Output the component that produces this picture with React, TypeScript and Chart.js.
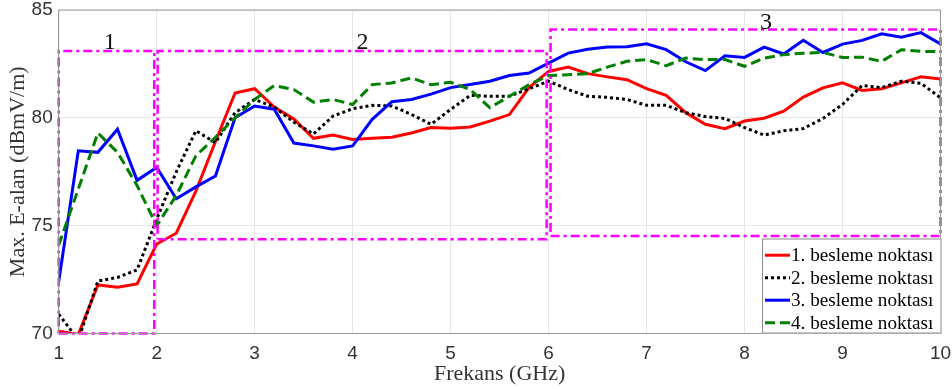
import React, { useEffect, useRef } from 'react';
import { Chart, registerables } from 'chart.js';

Chart.register(...registerables);

// Frequency axis (GHz)
const freqGHz = [
  1.0, 1.2, 1.4, 1.6, 1.8, 2.0, 2.2, 2.4, 2.6, 2.8,
  3.0, 3.2, 3.4, 3.6, 3.8, 4.0, 4.2, 4.4, 4.6, 4.8,
  5.0, 5.2, 5.4, 5.6, 5.8, 6.0, 6.2, 6.4, 6.6, 6.8,
  7.0, 7.2, 7.4, 7.6, 7.8, 8.0, 8.2, 8.4, 8.6, 8.8,
  9.0, 9.2, 9.4, 9.6, 9.8, 10.0,
];

// 1. besleme noktası (red, solid)
const feed1 = [
  70.1, 69.95, 72.25, 72.15, 72.3, 74.15, 74.65, 76.6, 78.9, 81.15,
  81.35, 80.5, 79.95, 79.05, 79.2, 79.0, 79.05, 79.1, 79.3, 79.55,
  79.52, 79.58, 79.85, 80.15, 81.4, 82.15, 82.35, 82.05, 81.9, 81.77,
  81.35, 81.04, 80.24, 79.7, 79.5, 79.85, 79.98, 80.31, 80.96, 81.39,
  81.62, 81.27, 81.35, 81.62, 81.9, 81.8,
];

// 2. besleme noktası (black, dotted)
const feed2 = [
  70.9, 69.7, 72.43, 72.6, 72.95, 75.3, 77.5, 79.4, 78.85, 80.24,
  80.85, 80.5, 79.8, 79.25, 80.08, 80.42, 80.58, 80.55, 80.16, 79.7,
  80.39, 81.04, 81.0, 81.0, 81.35, 81.7, 81.31, 81.0, 80.95, 80.85,
  80.58, 80.58, 80.24, 80.06, 79.97, 79.55, 79.2, 79.4, 79.5, 79.97,
  80.62, 81.5, 81.4, 81.7, 81.6, 80.93,
];

// 3. besleme noktası (blue, solid)
const feed3 = [
  72.4, 78.47, 78.4, 79.47, 77.1, 77.7, 76.25, 76.8, 77.3, 80.0,
  80.55, 80.4, 78.83, 78.7, 78.55, 78.7, 79.93, 80.75, 80.85, 81.1,
  81.4, 81.55, 81.7, 81.96, 82.08, 82.54, 83.0, 83.18, 83.28, 83.3,
  83.43, 83.16, 82.6, 82.19, 82.88, 82.8, 83.28, 82.96, 83.6, 83.03,
  83.42, 83.59, 83.9, 83.74, 83.95, 83.43,
];

// 4. besleme noktası (green, dashed)
const feed4 = [
  74.1, 76.7, 79.3, 78.4, 76.86, 75.0, 76.4, 78.24, 79.1, 80.0,
  80.85, 81.5, 81.31, 80.73, 80.85, 80.62, 81.54, 81.62, 81.85, 81.54,
  81.65, 81.31, 80.47, 81.0, 81.54, 81.96, 82.0, 82.05, 82.35, 82.62,
  82.7, 82.42, 82.77, 82.7, 82.7, 82.39, 82.77, 82.93, 83.0, 83.03,
  82.8, 82.81, 82.62, 83.16, 83.08, 83.08,
];

const seriesValues = [feed1, feed2, feed3, feed4];
const seriesLabels = ['1. besleme noktası', '2. besleme noktası', '3. besleme noktası', '4. besleme noktası'];
const seriesColors = ['#ff0000', '#000000', '#0000ff', '#008000'];
const seriesDash: number[][] = [[], [3, 3], [], [10, 5]];

// Axis ticks
const xTickValues = [1, 2, 3, 4, 5, 6, 7, 8, 9, 10];
const yTickValues = [70, 75, 80, 85];

// Highlighted regions (dash-dot boxes)
const regionLabels = ['1', '2', '3'];
const regionX0 = [1.0, 2.01, 6.02];
const regionX1 = [1.975, 5.98, 10.0];
const regionY0 = [70.0, 74.37, 74.52];
const regionY1 = [83.1, 83.1, 84.1];
const regionLabelX = [1.52, 4.1, 8.22];
const regionLabelY = [83.5, 83.47, 84.4];

const SERIF = '"Liberation Serif", "Times New Roman", serif';
const SANS = '"Liberation Sans", Arial, sans-serif';

const overlayPlugin = {
  id: 'overlay',
  afterDatasetsDraw(chart: any) {
    const { ctx, chartArea, scales } = chart;
    const xs = scales.x;
    const ys = scales.y;
    ctx.save();
    // plot box border (top & right)
    ctx.strokeStyle = '#9a9a9a';
    ctx.lineWidth = 1;
    ctx.setLineDash([]);
    ctx.strokeRect(chartArea.left, chartArea.top, chartArea.right - chartArea.left, chartArea.bottom - chartArea.top);

    // region labels
    ctx.fillStyle = '#111';
    ctx.font = `24px ${SERIF}`;
    ctx.textAlign = 'center';
    ctx.textBaseline = 'middle';
    regionLabels.forEach((t, i) => {
      ctx.fillText(t, xs.getPixelForValue(regionLabelX[i]), ys.getPixelForValue(regionLabelY[i]));
    });

    // legend
    const right = chartArea.right + 1;
    const bottom = chartArea.bottom;
    const lw = 179.5;
    const lh = 95;
    const left = right - lw;
    const top = bottom - lh;
    ctx.fillStyle = '#ffffff';
    ctx.fillRect(left, top, lw, lh);
    ctx.strokeStyle = '#8a8a8a';
    ctx.lineWidth = 1;
    ctx.strokeRect(left + 0.5, top + 0.5, lw - 1, lh - 1);
    ctx.font = `19.2px ${SERIF}`;
    ctx.textAlign = 'left';
    ctx.textBaseline = 'middle';
    seriesLabels.forEach((lab, i) => {
      const y = top + 16.7 + i * 22.5;
      ctx.beginPath();
      ctx.strokeStyle = seriesColors[i];
      ctx.lineWidth = 3;
      ctx.setLineDash(seriesDash[i]);
      ctx.moveTo(left + 3, y);
      ctx.lineTo(left + 28, y);
      ctx.stroke();
      ctx.setLineDash([]);
      ctx.fillStyle = '#000';
      ctx.fillText(lab, left + 29, y + 1);
    });
    ctx.restore();
  },
};

export default function App() {
  const canvasRef = useRef<HTMLCanvasElement | null>(null);

  useEffect(() => {
    document.body.style.margin = '0';
    const canvas = canvasRef.current;
    if (!canvas) return;

    const lineSets = seriesValues.map((vals, i) => ({
      label: seriesLabels[i],
      data: freqGHz.map((f, j) => ({ x: f, y: vals[j] })),
      borderColor: seriesColors[i],
      backgroundColor: seriesColors[i],
      borderWidth: 3,
      borderDash: seriesDash[i],
      borderCapStyle: 'butt' as const,
      pointRadius: 0,
      tension: 0,
      fill: false,
      order: 4 - i,
    }));

    const boxSets = regionLabels.map((lab, i) => ({
      label: 'region ' + lab,
      data: [
        { x: regionX0[i], y: regionY0[i] },
        { x: regionX1[i], y: regionY0[i] },
        { x: regionX1[i], y: regionY1[i] },
        { x: regionX0[i], y: regionY1[i] },
        { x: regionX0[i], y: regionY0[i] },
      ],
      borderColor: '#ff00ff',
      backgroundColor: '#ff00ff',
      borderWidth: 2.5,
      borderDash: [9, 4, 3, 4],
      pointRadius: 0,
      tension: 0,
      fill: false,
      clip: false as any,
      order: 0,
    }));

    const chart = new Chart(canvas, {
      type: 'line',
      data: { datasets: [...lineSets, ...boxSets] as any },
      options: {
        responsive: false,
        animation: false,
        events: [],
        layout: { padding: { left: 0, top: 10, right: 11.5, bottom: 0 } },
        plugins: {
          legend: { display: false },
          tooltip: { enabled: false },
        },
        scales: {
          x: {
            type: 'linear',
            min: 1,
            max: 10,
            afterBuildTicks: (s: any) => { s.ticks = xTickValues.map((v) => ({ value: v })); },
            afterFit: (s: any) => { s.height = 55.5; s.paddingLeft = 0; s.paddingRight = 0; },
            ticks: {
              color: '#333',
              font: { family: SANS, size: 19 },
              padding: 9,
              maxRotation: 0,
            },
            grid: { color: '#e6e6e6', drawTicks: false },
            border: { color: '#9a9a9a' },
            title: {
              display: true,
              text: 'Frekans (GHz)',
              color: '#333',
              font: { family: SERIF, size: 22 },
              padding: { top: 0, bottom: 2 },
            },
          },
          y: {
            type: 'linear',
            min: 70,
            max: 85,
            afterBuildTicks: (s: any) => { s.ticks = yTickValues.map((v) => ({ value: v })); },
            afterFit: (s: any) => { s.width = 58.7; s.paddingTop = 0; s.paddingBottom = 0; },
            ticks: {
              color: '#333',
              font: { family: SANS, size: 19, lineHeight: 1 },
              padding: 6,
            },
            grid: { color: '#e6e6e6', drawTicks: false },
            border: { color: '#9a9a9a' },
            title: {
              display: true,
              text: 'Max. E-alan (dBmV/m)',
              color: '#333',
              font: { family: SERIF, size: 22 },
              padding: { top: 5, bottom: 0 },
            },
          },
        },
      },
      plugins: [overlayPlugin],
    });

    return () => chart.destroy();
  }, []);

  return (
    <div style={{ position: 'fixed', left: 0, top: 0, width: 952, height: 389, background: '#fff' }}>
      <canvas ref={canvasRef} width={952} height={389} style={{ width: 952, height: 389, display: 'block' }} />
    </div>
  );
}
